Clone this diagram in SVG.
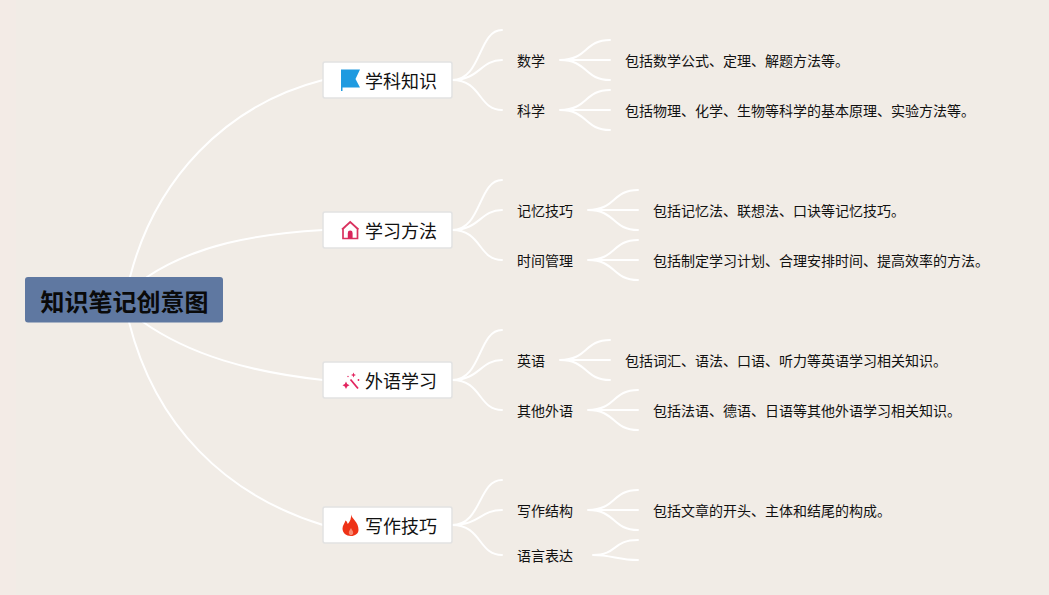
<svg xmlns="http://www.w3.org/2000/svg" width="1049" height="595" viewBox="0 0 1049 595">
<style>
text{font-family:"Noto Sans CJK SC","Liberation Sans",sans-serif;fill:#111}
.l{fill:none;stroke:#fff;stroke-width:2;stroke-linecap:round}
.t{fill:#fff;stroke:#e2e2e2;stroke-width:1.5}
.tt{font-size:18px}
.s{font-size:14px}
</style>
<rect width="1049" height="595" fill="#f1ece6"/>
<rect width="16" height="595" fill="#f3ebe6"/>
<g id="connectors">
<path class="l" d="M130 277C155 180 225 105 323 80"/>
<path class="l" d="M147 277C195 245 255 234 323 230"/>
<path class="l" d="M143 322C190 355 250 372 323 380"/>
<path class="l" d="M129 322C155 425 225 495 323 525"/>
<path class="l" d="M452 80C482 80 478 30 502 30M452 80C480 80 480 60 502 60M452 80C482 80 478 110 502 110"/>
<path class="l" d="M452 230C482 230 478 180 502 180M452 230C480 230 480 210 502 210M452 230C482 230 478 260 502 260"/>
<path class="l" d="M452 380C482 380 478 330 502 330M452 380C480 380 480 360 502 360M452 380C482 380 478 410 502 410"/>
<path class="l" d="M452 525C482 525 478 480 502 480M452 525C480 525 480 510 502 510M452 525C482 525 478 555 502 555"/>
<path class="l" d="M560 60C588 60 584 40 610 40M560 60H610M560 60C588 60 584 80 610 80"/>
<path class="l" d="M560 110C588 110 584 90 610 90M560 110H610M560 110C588 110 584 130 610 130"/>
<path class="l" d="M588 210C616 210 612 190 638 190M588 210H638M588 210C616 210 612 230 638 230"/>
<path class="l" d="M588 260C616 260 612 240 638 240M588 260H638M588 260C616 260 612 280 638 280"/>
<path class="l" d="M560 360C588 360 584 340 610 340M560 360H610M560 360C588 360 584 380 610 380"/>
<path class="l" d="M588 410C616 410 612 390 638 390M588 410H638M588 410C616 410 612 430 638 430"/>
<path class="l" d="M588 510C616 510 612 490 638 490M588 510H638M588 510C616 510 612 530 638 530"/>
<path class="l" d="M593 555C618 555 612 540 638 540M593 555C612 555 618 560 638 560"/>
</g>
<g id="root"><rect x="25" y="277" width="198" height="45.500" rx="3" fill="#5f78a1"/><text x="124.500" y="311" text-anchor="middle" font-size="24" font-weight="700" style="fill:#0a0a0a">知识笔记创意图</text></g>
<g id="topic1"><rect class="t" x="323" y="62" width="129" height="36" rx="2"/><path d="M341 69.500H360L355.500 79L360 87.500H342.500V91H341Z" fill="#1e9ae0"/><text class="tt" x="365" y="87.500">学科知识</text></g>
<g id="topic2"><rect class="t" x="323" y="212" width="129" height="36" rx="2"/><path d="M343 229V238.500H357.500V229L350.200 222Z M342 229.500L350.200 222L358.500 229.500" fill="none" stroke="#d9325f" stroke-width="1.700"/><path d="M347.800 238.500V233A2.400 2.400 0 0 1 352.600 233V238.500Z" fill="#d9265c"/><text class="tt" x="365" y="237.500">学习方法</text></g>
<g id="topic3"><rect class="t" x="323" y="362" width="129" height="36" rx="2"/><path d="M350.500 379.500L358 388.500" stroke="#e3245f" stroke-width="1.800" fill="none"/><g fill="#e3245f"><path d="M346 381.500L347.200 384L349.500 385.200L347.200 386.400L346 389L344.800 386.400L342.500 385.200L344.800 384Z"/><path d="M353.500 372.500L354.200 374.300L356 375L354.200 375.700L353.500 377.500L352.800 375.700L351 375L352.800 374.300Z"/><circle cx="358.500" cy="380" r="0.900"/><circle cx="348" cy="376.500" r="0.700"/></g><text class="tt" x="365" y="387.500">外语学习</text></g>
<g id="topic4"><rect class="t" x="323" y="507" width="129" height="36" rx="2"/><path d="M351 514.500C352 519 358.500 522 358.500 530C358.500 533.500 355 536 351 536C346 536 342.500 533 342.500 528.500C342.500 525 345 523 345.500 520.500C347 521.500 347.500 523 347.800 524C350 521.500 351.500 518 351 514.500Z" fill="#ee3216"/><path d="M351 528C350 530 348.800 531 348.800 532.800C348.800 534.300 350 535.200 351 535.200C352.300 535.200 353.200 534 353.200 532.800C353.200 531 351.800 530 351 528Z" fill="#f88a72"/><text class="tt" x="365" y="532.500">写作技巧</text></g>
<g id="sub1"><text class="s" x="517" y="65.500">数学</text></g>
<g id="sub2"><text class="s" x="517" y="115.500">科学</text></g>
<g id="sub3"><text class="s" x="517" y="215.500">记忆技巧</text></g>
<g id="sub4"><text class="s" x="517" y="265.500">时间管理</text></g>
<g id="sub5"><text class="s" x="517" y="365.500">英语</text></g>
<g id="sub6"><text class="s" x="517" y="415.500">其他外语</text></g>
<g id="sub7"><text class="s" x="517" y="515.500">写作结构</text></g>
<g id="sub8"><text class="s" x="517" y="560.500">语言表达</text></g>
<g id="leaf1"><text class="s" x="625" y="65.500">包括数学公式、定理、解题方法等。</text></g>
<g id="leaf2"><text class="s" x="625" y="115.500">包括物理、化学、生物等科学的基本原理、实验方法等。</text></g>
<g id="leaf3"><text class="s" x="653" y="215.500">包括记忆法、联想法、口诀等记忆技巧。</text></g>
<g id="leaf4"><text class="s" x="653" y="265.500">包括制定学习计划、合理安排时间、提高效率的方法。</text></g>
<g id="leaf5"><text class="s" x="625" y="365.500">包括词汇、语法、口语、听力等英语学习相关知识。</text></g>
<g id="leaf6"><text class="s" x="653" y="415.500">包括法语、德语、日语等其他外语学习相关知识。</text></g>
<g id="leaf7"><text class="s" x="653" y="515.500">包括文章的开头、主体和结尾的构成。</text></g>
</svg>
